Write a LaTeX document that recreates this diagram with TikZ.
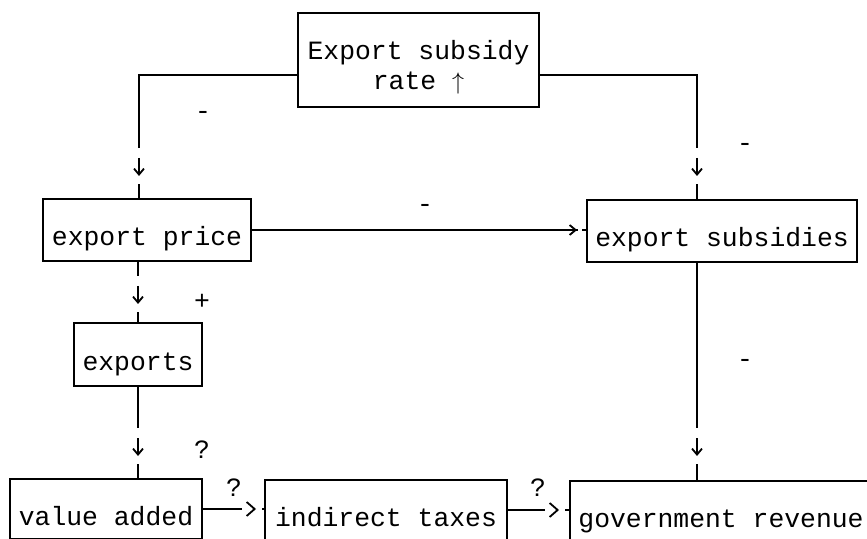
\documentclass[tikz,border=0pt]{standalone}
\usepackage{fontspec}
\usepackage{tikz}
\usetikzlibrary{arrows.meta,calc,decorations.markings}
\newfontfamily\twfont{Liberation Mono}
\tikzset{
  box/.style={draw,line width=1pt,rectangle,inner sep=2pt,text height=16pt,text depth=0pt},
  conn/.style={draw,line width=1pt},
  vmark/.style={postaction={decorate},decoration={markings,mark=at position #1 with {
      \fill[white] (-14pt,-2pt) rectangle (4pt,2pt);
      \draw[line width=0.9pt,-{Straight Barb[length=3pt,width=5pt]}] (-9pt,0) -- (0,0);}}},
  hmark/.style={postaction={decorate},decoration={markings,mark=at position #1 with {
      \fill[white] (0.3pt,-2pt) rectangle (2.5pt,2pt);
      \draw[line width=0.9pt,-{Straight Barb[length=3pt,width=5pt]}] (-1pt,0) -- (0,0);}}},
  gtmark/.style={postaction={decorate},decoration={markings,mark=at position #1 with {
      \fill[white] (-7pt,-2pt) rectangle (3pt,2pt);
      \draw[line width=0.9pt,-{Straight Barb[length=4pt,width=7pt]}] (-1pt,0) -- (0,0);}}},
  sign/.style={inner sep=0pt}
}

\begin{document}
\begin{tikzpicture}[x=0.5pt,y=-0.5pt,font=\twfont\fontsize{13.2}{15}\selectfont]
  \useasboundingbox (0,0) rectangle (867,539);
  \clip (0,0) rectangle (867,539);
  \node[box,minimum width=120.5pt,minimum height=47pt,align=center,text height=32pt,text depth=2pt] (rate) at (418.5,60) {Export subsidy\\rate $\uparrow$};
  \node[box,minimum width=104pt,minimum height=31pt] (price) at (147,230) {export price};
  \node[box,minimum width=135pt,minimum height=31pt] (subs) at (722,231) {export subsidies};
  \node[box,minimum width=64pt,minimum height=31.5pt] (exports) at (138,354.5) {exports};
  \node[box,minimum width=96pt,minimum height=30pt] (vadd) at (106,509) {value added};
  \node[box,minimum width=121pt,minimum height=30pt] (ind) at (386,510) {indirect taxes};
  \node[box,minimum width=151pt,minimum height=30pt] (gov) at (721,511) {government revenue};

  \coordinate (ratel) at ($(rate.west)+(0,15)$);
  \coordinate (rater) at ($(rate.east)+(0,15)$);
  \coordinate (pricein) at ($(price.north)+(-8,0)$);
  \coordinate (subsin) at ($(subs.north)+(-25,0)$);
  \coordinate (subsout) at ($(subs.south)+(-25,0)$);

  \draw[conn,vmark=-11pt] (ratel) -| (pricein);
  \draw[conn,vmark=-11.5pt] (rater) -| (subsin);
  \draw[conn,hmark=-4.5pt] (price.east) -- (price.east -| subs.west);
  \draw[conn,vmark=-9pt] (exports.north |- price.south) -- (exports.north);
  \draw[conn,vmark=-11pt] (exports.south) -- (exports.south |- vadd.north);
  \draw[conn,vmark=-12pt] (subsout) -- (subsout |- gov.north);
  \draw[conn,gtmark=-4pt] (vadd.east) -- (vadd.east -| ind.west);
  \draw[conn,gtmark=-5pt] (ind.east) -- (ind.east -| gov.west);

  \node[sign] (s1) at (203,115) {-};
  \node[sign] (s2) at (745,147) {-};
  \node[sign] (s3) at (425,208) {-};
  \node[sign] (s4) at (202,302) {+};
  \node[sign] (s5) at (745,363) {-};
  \node[sign] (s6) at (202,450) {?};
  \node[sign] (s7) at (234,488) {?};
  \node[sign] (s8) at (538,488) {?};
\end{tikzpicture}
\end{document}
